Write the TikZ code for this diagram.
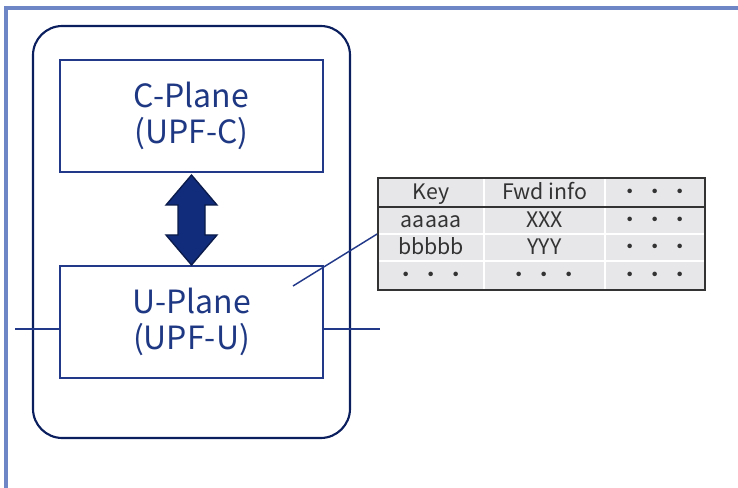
\documentclass[tikz,border=0pt]{standalone}
\usepackage{fontspec}
\setmainfont{Noto Sans CJK JP}
\definecolor{frameblue}{HTML}{6F86C6}
\definecolor{navyout}{HTML}{0B1F5E}
\definecolor{navybox}{HTML}{22398A}
\definecolor{navytext}{HTML}{1F3883}
\definecolor{arrowfill}{HTML}{102C7A}
\definecolor{arrowline}{HTML}{0A1A4A}
\definecolor{cellgray}{HTML}{E7E7EA}
\definecolor{tborder}{HTML}{333333}
\tikzset{
  planebox/.style={draw=navybox, line width=1.2pt, minimum width=197.25pt, minimum height=84pt, align=center, text=navytext, font=\fontsize{24}{27}\selectfont, inner sep=0pt},
  cell/.style={fill=cellgray, draw=white, line width=1.4pt, inner sep=0pt, text=black!80, font=\fontsize{16}{18}\selectfont, text height=2.1ex, text depth=0.3ex},
  link/.style={draw=navybox, line width=1.1pt},
}
\begin{document}
\begin{tikzpicture}[x=0.75pt,y=-0.75pt]
\useasboundingbox (0,0) rectangle (738,488);
% light frame
\draw[frameblue, line width=2.3pt] (6,488) -- (6,8) -- (738,8);
% outer rounded device
\node[draw=navyout, line width=1.6pt, rounded corners=22pt, minimum width=237.75pt, minimum height=309pt, inner sep=0pt] (dev) at (191.5,232) {};
% planes
\node[planebox] (cp) at (191.5,116) {C-Plane\\(UPF-C)};
\node[planebox] (up) at (191.5,322) {U-Plane\\(UPF-U)};
% interfaces
\coordinate (ifl) at (15,329);
\coordinate (ifr) at (380,329);
\draw[link, line width=0.8pt] (ifl) -- (up.west |- ifl);
\draw[link, line width=0.8pt] (up.east |- ifr) -- (ifr);
% double arrow
\draw[fill=arrowfill, draw=arrowline, line width=1pt, line join=miter]
  (191.5,175) -- (217,205) -- (205,205) -- (205,235) -- (217,235) -- (191.5,265)
  -- (166,235) -- (178,235) -- (178,205) -- (166,205) -- cycle;
% table cells
\node[cell, minimum width=79.5pt, minimum height=21.75pt] (h1) at (431,192.5) {Key};
\node[cell, minimum width=90.75pt, minimum height=21.75pt] (h2) at (544.5,192.5) {Fwd info};
\node[cell, minimum width=75pt, minimum height=21.75pt] (h3) at (655,192.5) {・\,・\,・};
\node[cell, minimum width=79.5pt, minimum height=20.25pt] (a1) at (431,220.5) {aaaaa};
\node[cell, minimum width=90.75pt, minimum height=20.25pt] (a2) at (544.5,220.5) {XXX};
\node[cell, minimum width=75pt, minimum height=20.25pt] (a3) at (655,220.5) {・\,・\,・};
\node[cell, minimum width=79.5pt, minimum height=20.25pt] (b1) at (431,247.5) {bbbbb};
\node[cell, minimum width=90.75pt, minimum height=20.25pt] (b2) at (544.5,247.5) {YYY};
\node[cell, minimum width=75pt, minimum height=20.25pt] (b3) at (655,247.5) {・\,・\,・};
\node[cell, minimum width=79.5pt, minimum height=21.75pt] (c1) at (431,275.5) {・\,・\,・};
\node[cell, minimum width=90.75pt, minimum height=21.75pt] (c2) at (544.5,275.5) {・\,・\,・};
\node[cell, minimum width=75pt, minimum height=21.75pt] (c3) at (655,275.5) {・\,・\,・};
\node[draw=tborder, line width=1.3pt, minimum width=245.25pt, minimum height=84pt, inner sep=0pt] (tbl) at (541.5,234) {};
\draw[tborder, line width=1.3pt] (tbl.west |- 0,207) -- (tbl.east |- 0,207);
% connector
\coordinate (ustart) at (293,286);
\draw[link] (ustart) -- (tbl.west);
\end{tikzpicture}
\end{document}
